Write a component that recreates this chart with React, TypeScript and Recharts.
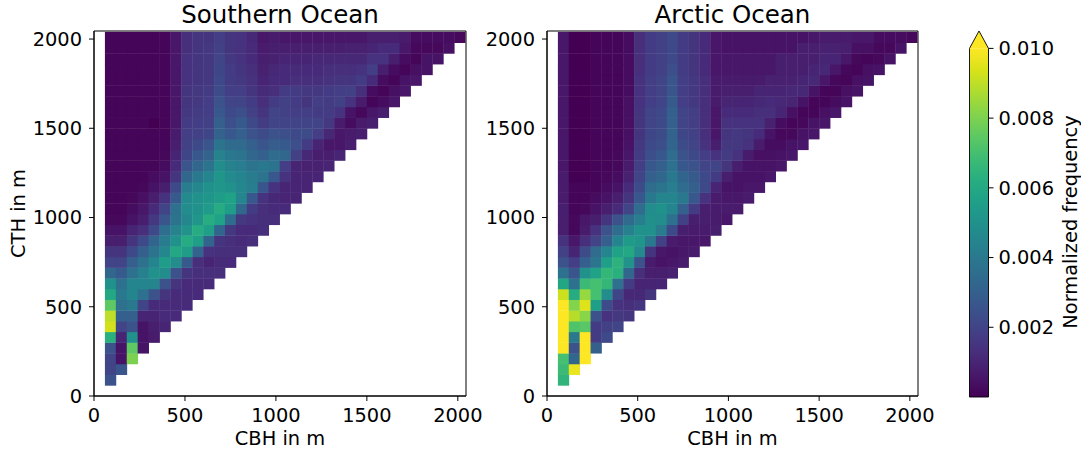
import { ScatterChart, Scatter, XAxis, YAxis, ReferenceArea, BarChart, Bar } from 'recharts'

// bin centres (m), shared by CBH (x) and CTH (y)
const binCenters = [90, 150, 210, 270, 330, 390, 450, 510, 570, 630, 690, 750, 810, 870, 930, 990, 1050,
  1110, 1170, 1230, 1290, 1350, 1410, 1470, 1530, 1590, 1650, 1710, 1770, 1830, 1890, 1950, 2010]
const axisTicks = [0, 500, 1000, 1500, 2000]
const colorbarTicks = [0.002, 0.004, 0.006, 0.008, 0.01]
const colorbarRange = [0, 0.01]

// normalized frequency x 1e-4, one row per CTH bin (bottom row first), columns = CBH bins
const southernOcean = [
  [25],
  [20, 26],
  [20, 5, 80],
  [25, 5, 75, 5],
  [63, 10, 50, 5, 7],
  [93, 20, 25, 5, 8, 10],
  [90, 30, 30, 10, 10, 12, 12],
  [75, 37, 40, 20, 12, 12, 12, 12],
  [60, 40, 45, 37, 25, 15, 12, 12, 12],
  [50, 37, 45, 45, 45, 25, 15, 12, 12, 12],
  [33, 28, 37, 43, 50, 48, 25, 15, 13, 13, 13],
  [20, 20, 30, 37, 45, 55, 48, 28, 13, 10, 12, 12],
  [15, 15, 22, 30, 38, 46, 60, 55, 32, 14, 13, 13, 13],
  [8, 8, 15, 22, 32, 41, 50, 61, 56, 32, 15, 13, 12, 13],
  [5, 5, 10, 13, 22, 36, 44, 51, 61, 56, 32, 16, 12, 12, 13],
  [2, 2, 5, 8, 16, 26, 38, 46, 52, 62, 57, 35, 16, 14, 13, 13],
  [1, 1, 3, 6, 12, 20, 37, 48, 50, 54, 61, 55, 33, 17, 13, 12, 12],
  [1, 1, 2, 4, 8, 14, 28, 47, 50, 52, 55, 57, 45, 27, 14, 11, 10, 10],
  [1, 1, 1, 2, 5, 8, 22, 42, 46, 50, 52, 50, 46, 42, 26, 14, 10, 10, 10],
  [1, 1, 1, 1, 3, 5, 15, 33, 40, 45, 52, 47, 45, 41, 38, 27, 14, 10, 10, 10],
  [1, 1, 1, 1, 1, 3, 12, 26, 33, 38, 48, 44, 42, 38, 40, 38, 18, 10, 9, 9, 10],
  [1, 1, 1, 1, 1, 2, 10, 21, 27, 31, 44, 40, 38, 33, 30, 35, 33, 19, 11, 8, 8, 10],
  [1, 1, 1, 1, 1, 1, 8, 19, 22, 26, 38, 34, 34, 30, 26, 29, 28, 24, 17, 10, 6, 6, 8],
  [1, 1, 1, 1, 1, 1, 7, 18, 19, 21, 31, 27, 30, 25, 23, 25, 24, 22, 23, 18, 11, 6, 7, 8],
  [1, 1, 1, 1, 0, 1, 6, 17, 18, 19, 30, 24, 28, 22, 17, 20, 20, 20, 20, 20, 16, 7, 3, 7, 8],
  [1, 1, 1, 1, 1, 1, 6, 16, 17, 18, 27, 22, 24, 19, 15, 20, 19, 18, 18, 17, 17, 14, 5, 2, 6, 8],
  [1, 1, 1, 1, 1, 1, 6, 15, 16, 18, 25, 20, 20, 17, 13, 17, 19, 17, 15, 18, 17, 19, 14, 7, 1, 3, 6],
  [1, 1, 1, 1, 1, 1, 6, 15, 16, 17, 23, 18, 18, 15, 12, 13, 17, 17, 16, 16, 17, 18, 19, 13, 3, 1, 4, 6],
  [1, 1, 1, 1, 1, 1, 6, 14, 15, 16, 22, 17, 16, 14, 10, 12, 12, 13, 13, 13, 14, 15, 15, 17, 12, 3, 1, 5, 6],
  [1, 1, 1, 1, 1, 1, 6, 14, 15, 16, 21, 17, 15, 13, 9, 11, 12, 12, 12, 12, 13, 13, 13, 14, 18, 8, 3, 1, 4, 5],
  [1, 1, 1, 1, 1, 1, 6, 14, 15, 16, 20, 16, 14, 12, 8, 9, 10, 10, 10, 11, 11, 11, 11, 11, 14, 14, 8, 3, 1, 5, 5],
  [1, 1, 1, 1, 1, 1, 6, 13, 15, 16, 19, 15, 14, 12, 7, 8, 8, 8, 8, 8, 8, 8, 9, 9, 10, 12, 12, 6, 2, 2, 2, 4],
  [1, 1, 1, 1, 1, 1, 6, 13, 15, 15, 18, 15, 14, 11, 6, 7, 6, 6, 6, 6, 6, 6, 6, 6, 8, 8, 8, 7, 3, 3, 3, 3, 2],
]

const arcticOcean = [
  [65],
  [68, 97],
  [70, 33, 110],
  [110, 25, 110, 30],
  [110, 40, 110, 17, 22],
  [110, 72, 74, 17, 19, 20],
  [110, 89, 82, 25, 14, 16, 15],
  [110, 81, 95, 56, 23, 14, 13, 15],
  [92, 61, 84, 70, 48, 21, 11, 11, 15],
  [59, 37, 68, 70, 66, 37, 17, 10, 10, 10],
  [37, 26, 50, 57, 66, 63, 33, 13, 8, 8, 9],
  [25, 18, 30, 39, 56, 64, 51, 25, 7, 5, 6, 7],
  [19, 10, 23, 35, 45, 57, 60, 47, 15, 6, 5, 6, 7],
  [14, 6, 13, 20, 30, 45, 54, 52, 40, 19, 7, 6, 6, 6],
  [8, 2, 7, 14, 25, 35, 43, 50, 50, 41, 22, 8, 7, 7, 8],
  [8, 2, 6, 8, 15, 25, 34, 42, 49, 48, 37, 19, 8, 8, 7, 6],
  [8, 1, 2, 5, 8, 12, 20, 35, 48, 50, 45, 30, 17, 8, 7, 7, 7],
  [7, 1, 1, 3, 5, 8, 15, 27, 40, 45, 45, 40, 27, 14, 7, 6, 6, 7],
  [7, 1, 1, 1, 3, 5, 12, 23, 35, 38, 42, 35, 30, 22, 10, 5, 5, 6, 6],
  [7, 0, 0, 1, 2, 3, 9, 20, 30, 33, 40, 32, 28, 22, 17, 8, 5, 5, 5, 6],
  [6, 0, 0, 1, 1, 2, 7, 18, 27, 30, 37, 27, 25, 20, 20, 15, 8, 5, 5, 5, 6],
  [6, 0, 0, 1, 1, 2, 6, 17, 24, 27, 35, 25, 22, 18, 14, 17, 14, 7, 4, 4, 5, 6],
  [6, 0, 0, 1, 1, 1, 5, 16, 22, 24, 32, 23, 20, 14, 8, 16, 16, 14, 7, 3, 3, 5, 6],
  [6, 0, 0, 1, 1, 1, 4, 15, 21, 23, 31, 21, 19, 13, 6, 15, 16, 15, 12, 5, 2, 2, 5, 6],
  [6, 0, 0, 1, 1, 1, 4, 15, 20, 22, 30, 20, 18, 13, 6, 14, 14, 14, 14, 9, 3, 1, 2, 5, 6],
  [6, 0, 0, 1, 1, 1, 4, 15, 20, 22, 30, 20, 18, 13, 6, 12, 12, 12, 13, 13, 10, 4, 1, 1, 4, 6],
  [6, 0, 0, 1, 1, 1, 4, 14, 18, 20, 28, 18, 16, 13, 7, 10, 10, 10, 11, 12, 11, 10, 5, 1, 1, 3, 5],
  [6, 0, 0, 1, 1, 1, 3, 14, 18, 20, 26, 18, 16, 13, 7, 8, 8, 8, 10, 10, 10, 11, 11, 5, 1, 1, 4, 5],
  [6, 0, 0, 1, 1, 1, 3, 14, 18, 20, 26, 18, 16, 13, 7, 7, 7, 7, 7, 9, 9, 9, 10, 11, 6, 2, 1, 4, 5],
  [6, 0, 0, 1, 1, 1, 3, 13, 17, 19, 24, 17, 15, 12, 6, 6, 6, 6, 6, 6, 8, 8, 8, 10, 11, 6, 2, 1, 4, 5],
  [6, 0, 0, 1, 1, 1, 3, 13, 17, 19, 22, 17, 15, 12, 6, 6, 6, 6, 6, 6, 8, 8, 8, 8, 10, 10, 6, 2, 1, 2, 5],
  [6, 0, 0, 1, 1, 1, 3, 13, 17, 19, 22, 17, 15, 12, 6, 5, 5, 5, 5, 5, 5, 5, 8, 8, 9, 9, 8, 4, 4, 2, 2, 5],
  [6, 0, 0, 1, 1, 1, 3, 13, 17, 19, 22, 17, 15, 12, 6, 5, 5, 5, 5, 5, 5, 5, 5, 6, 7, 7, 7, 6, 6, 3, 3, 3, 2],
]

const VIRIDIS = ['#440154', '#48186a', '#472d7b', '#424086', '#3b528b', '#33638d', '#2c728e', '#26828e',
  '#21918c', '#1fa088', '#28ae80', '#3fbc73', '#5ec962', '#84d44b', '#addc30', '#d8e219', '#fde725']

const AX_MAX = 2045
const BIN = 60
const PLOT_H = 365
const FONT = 19.4

const hex = (h: string) => [1, 3, 5].map(i => parseInt(h.slice(i, i + 2), 16))

function viridis(t: number) {
  const c = Math.min(1, Math.max(0, t)) * (VIRIDIS.length - 1)
  const i = Math.min(VIRIDIS.length - 2, Math.floor(c))
  const f = c - i
  const a = hex(VIRIDIS[i])
  const b = hex(VIRIDIS[i + 1])
  const m = a.map((v, k) => Math.round(v + (b[k] - v) * f))
  return `rgb(${m[0]},${m[1]},${m[2]})`
}

const toPoints = (rows: number[][]) =>
  rows.flatMap((row, j) => row.map((v, i) => ({ cbh: binCenters[i], cth: binCenters[j], freq: v / 10000 })))

const southernPoints = toPoints(southernOcean)
const arcticPoints = toPoints(arcticOcean)

function cellShape(plotW: number) {
  const w = (plotW * BIN) / AX_MAX
  const h = (PLOT_H * BIN) / AX_MAX
  return (props: any) => {
    const { cx, cy, payload } = props
    return (
      <rect x={cx - w / 2} y={cy - h / 2} width={w + 0.4} height={h + 0.4}
        fill={viridis(payload.freq / colorbarRange[1])} />
    )
  }
}

const tickStyle = { fill: '#000', fontSize: FONT }

function HeatPanel({ data, left, width, yAxisWidth, plotW }: any) {
  return (
    <div style={{ position: 'absolute', left, top: 0 }}>
      <ScatterChart width={width} height={449}
        margin={{ top: 31, right: width - yAxisWidth - plotW, bottom: 4, left: 0 }}>
        <XAxis type="number" dataKey="cbh" domain={[0, AX_MAX]} ticks={axisTicks} allowDataOverflow
          tick={tickStyle} tickSize={5} tickMargin={7} stroke="#000" height={49}
          label={{ value: 'CBH in m', position: 'insideBottom', offset: 0, fill: '#000', fontSize: FONT }} />
        <YAxis type="number" dataKey="cth" domain={[0, AX_MAX]} ticks={axisTicks} allowDataOverflow
          tick={tickStyle} tickSize={5} tickMargin={7} stroke="#000" width={yAxisWidth} />
        <Scatter data={data} shape={cellShape(plotW)} isAnimationActive={false} />
        <ReferenceArea x1={0} x2={AX_MAX} y1={0} y2={AX_MAX} fill="none" stroke="#000" strokeWidth={1} />
      </ScatterChart>
    </div>
  )
}

const ColorbarShape = (props: any) => {
  const { x, y, width, height } = props
  const ext = height * 0.05
  return (
    <g>
      <defs>
        <linearGradient id="viridisGrad" x1="0" y1="1" x2="0" y2="0">
          {VIRIDIS.map((c, i) => (
            <stop key={i} offset={i / (VIRIDIS.length - 1)} stopColor={c} />
          ))}
        </linearGradient>
      </defs>
      <rect x={x} y={y} width={width} height={height} fill="url(#viridisGrad)" />
      <path d={`M${x},${y} L${x + width / 2},${y - ext} L${x + width},${y} Z`} fill={VIRIDIS[VIRIDIS.length - 1]} />
      <path d={`M${x},${y + height} L${x},${y} L${x + width / 2},${y - ext} L${x + width},${y} L${x + width},${y + height} Z`}
        fill="none" stroke="#000" strokeWidth={0.9} />
    </g>
  )
}

export default function App() {
  return (
    <div style={{ position: 'absolute', left: 0, top: 0, width: 1081, height: 449, background: '#fff',
      fontFamily: "'DejaVu Sans', sans-serif" }}>
      <HeatPanel data={southernPoints} left={0} width={500} yAxisWidth={94} plotW={372} />
      <HeatPanel data={arcticPoints} left={480} width={470} yAxisWidth={67} plotW={371} />
      <div style={{ position: 'absolute', left: 940, top: 0 }}>
        <BarChart width={141} height={449} data={[{ name: 'cb', freq: colorbarRange[1] }]} barCategoryGap={0}
          margin={{ top: 48.4, right: 22.5, bottom: 52, left: 29.5 }}>
          <XAxis dataKey="name" hide />
          <YAxis orientation="right" type="number" domain={colorbarRange} ticks={colorbarTicks}
            tickFormatter={(v: number) => v.toFixed(3)} axisLine={false} tick={tickStyle}
            tickSize={5} tickMargin={5} stroke="#000" width={70} />
          <Bar dataKey="freq" shape={ColorbarShape} isAnimationActive={false} />
        </BarChart>
      </div>
      <svg width={1081} height={449} style={{ position: 'absolute', left: 0, top: 0, pointerEvents: 'none' }}>
        <text x={280} y={23} textAnchor="middle" fontSize={24.5} fill="#000">Southern Ocean</text>
        <text x={732.5} y={23} textAnchor="middle" fontSize={24.5} fill="#000">Arctic Ocean</text>
        <text x={25} y={213.5} textAnchor="middle" fontSize={FONT} fill="#000" transform="rotate(-90 25 213.5)">CTH in m</text>
        <text x={1077} y={222} textAnchor="middle" fontSize={FONT} fill="#000" transform="rotate(-90 1077 222)">Normalized frequency</text>
      </svg>
    </div>
  )
}
